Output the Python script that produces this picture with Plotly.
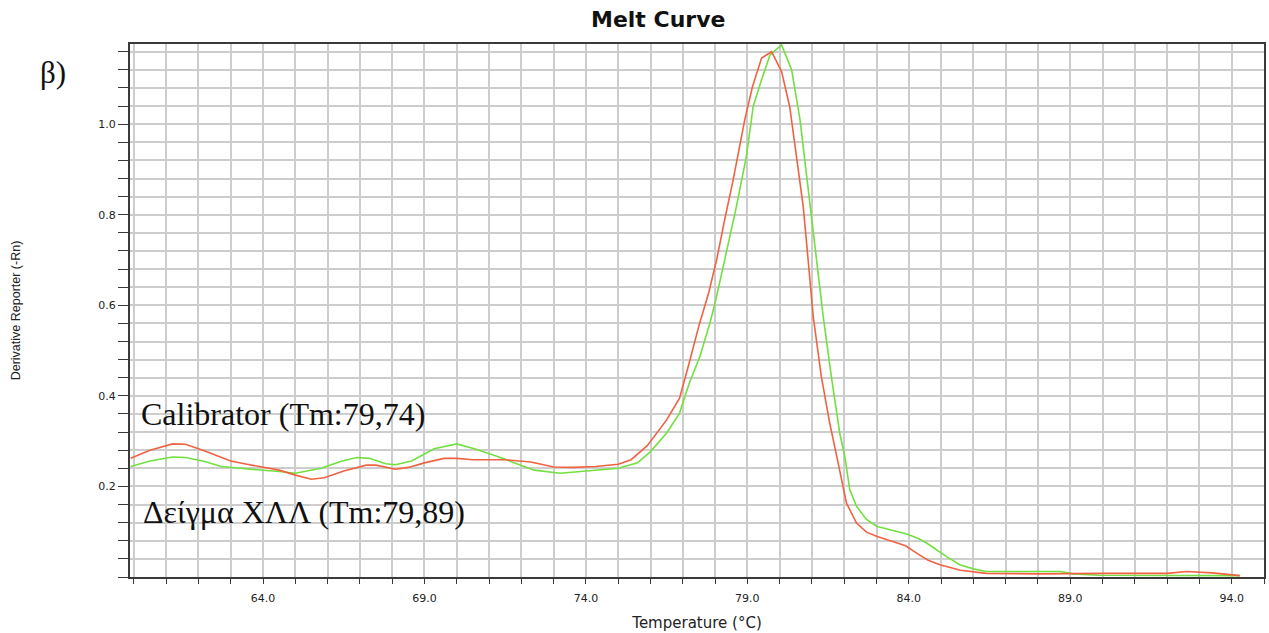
import plotly.graph_objects as go

# Calibrator (red) curve
cal_temp = [59.9, 60.5, 61.2, 61.6, 62.2, 63.0, 63.5, 64.0, 64.5, 65.0, 65.5, 65.9, 66.5, 67.2, 67.5,
            68.1, 68.5, 69.0, 69.6, 70.0, 70.5, 71.5, 72.3, 73.0, 73.6, 74.3, 75.0, 75.4, 75.9, 76.5,
            76.9, 77.2, 77.5, 77.8, 78.05, 78.3, 78.56, 78.92, 79.16, 79.44, 79.75, 80.06, 80.31, 80.52,
            80.73, 80.85, 81.04, 81.29, 81.55, 81.81, 82.07, 82.38, 82.69, 83.0, 83.5, 83.9, 84.3, 84.6,
            84.96, 85.6, 86.4, 88.0, 90.0, 92.0, 92.6, 93.4, 94.25]
cal_deriv = [0.262, 0.280, 0.294, 0.293, 0.278, 0.256, 0.249, 0.243, 0.236, 0.225, 0.216, 0.219, 0.234,
             0.247, 0.247, 0.238, 0.242, 0.252, 0.262, 0.262, 0.259, 0.259, 0.254, 0.243, 0.242, 0.244,
             0.249, 0.259, 0.290, 0.347, 0.395, 0.473, 0.555, 0.627, 0.701, 0.790, 0.877, 1.010, 1.083,
             1.146, 1.160, 1.116, 1.039, 0.929, 0.818, 0.725, 0.575, 0.443, 0.340, 0.252, 0.163, 0.119,
             0.099, 0.090, 0.079, 0.069, 0.050, 0.037, 0.027, 0.015, 0.008, 0.007, 0.008, 0.008, 0.012,
             0.009, 0.003]

# Sample (green) curve
smp_temp = [59.9, 60.5, 61.2, 61.6, 62.2, 62.7, 63.3, 63.9, 64.5, 65.0, 65.8, 66.4, 66.9, 67.3, 67.8,
            68.1, 68.6, 69.3, 70.0, 70.6, 71.4, 72.0, 72.4, 73.2, 73.8, 74.3, 75.0, 75.6, 76.0, 76.5,
            76.9, 77.2, 77.53, 77.84, 78.0, 78.3, 78.66, 78.97, 79.18, 79.44, 79.7, 80.06, 80.37, 80.63,
            80.88, 81.14, 81.35, 81.6, 81.86, 82.02, 82.17, 82.38, 82.69, 83.0, 83.5, 83.93, 84.3, 84.55,
            85.17, 85.58, 86.0, 86.4, 88.7, 89.1, 89.9, 92.8, 94.25]
smp_deriv = [0.244, 0.256, 0.265, 0.264, 0.255, 0.244, 0.240, 0.237, 0.233, 0.229, 0.240, 0.255, 0.264,
             0.262, 0.250, 0.248, 0.256, 0.283, 0.294, 0.282, 0.263, 0.246, 0.236, 0.229, 0.233, 0.235,
             0.240, 0.252, 0.277, 0.318, 0.362, 0.428, 0.487, 0.561, 0.605, 0.701, 0.818, 0.929, 1.039,
             1.098, 1.153, 1.175, 1.120, 1.010, 0.856, 0.701, 0.575, 0.443, 0.318, 0.266, 0.193, 0.156,
             0.127, 0.112, 0.103, 0.095, 0.085, 0.075, 0.045, 0.027, 0.018, 0.012, 0.012, 0.007, 0.004,
             0.004, 0.003]

y_tick_vals = [0.2, 0.4, 0.6, 0.8, 1.0]
y_tick_text = ["0.2", "0.4", "0.6", "0.8", "1.0"]

title_text = "Melt Curve"
x_title = "Temperature (°C)"
y_title = "Derivative Reporter (-Rn)"
panel_label = "β)"
cal_label = "Calibrator (Tm:79,74)"
smp_label = "Δείγμα ΧΛΛ (Tm:79,89)"

RED = "#ef6343"
GREEN = "#72e040"
GRID = "#cdcdcd"
AX = "#3a3a3a"
SANS = "Liberation Sans, Arial, sans-serif"
WIDE = "DejaVu Sans, Verdana, sans-serif"
SERIF = "Liberation Serif, Times New Roman, serif"

fig = go.Figure()
fig.add_trace(go.Scatter(x=smp_temp, y=smp_deriv, mode="lines",
                         line=dict(color=GREEN, width=1.6), name=smp_label))
fig.add_trace(go.Scatter(x=cal_temp, y=cal_deriv, mode="lines",
                         line=dict(color=RED, width=1.6), name=cal_label))

fig.update_layout(
    width=1269, height=633,
    margin=dict(l=130, r=5, t=44, b=56),
    paper_bgcolor="white", plot_bgcolor="white",
    showlegend=False,
    xaxis=dict(
        range=[59.88, 95.0], tick0=64, dtick=5, tickformat=".1f",
        showgrid=True, gridcolor=GRID, gridwidth=1.5,
        ticks="outside", ticklen=5, tickcolor=AX, tickwidth=1,
        showline=True, mirror=True, linecolor=AX, linewidth=2,
        zeroline=False, ticklabelstandoff=5, automargin=False,
        tickfont=dict(family=WIDE, size=11, color="#222"),
        minor=dict(tick0=60, dtick=1, showgrid=True, gridcolor=GRID, gridwidth=1.5,
                   ticks="outside", ticklen=5, tickcolor=AX),
        title=dict(text=x_title, font=dict(family=WIDE, size=15, color="#222"), standoff=13),
    ),
    yaxis=dict(
        range=[0, 1.177], tickmode="array", tickvals=y_tick_vals, ticktext=y_tick_text,
        showgrid=True, gridcolor=GRID, gridwidth=1.5,
        ticks="outside", ticklen=10, tickcolor=AX, tickwidth=1,
        showline=True, mirror=True, linecolor=AX, linewidth=2,
        zeroline=False, automargin=False,
        tickfont=dict(family=WIDE, size=11, color="#222"),
        minor=dict(tickmode="linear", tick0=0, dtick=0.04, showgrid=True, gridcolor=GRID,
                   gridwidth=1.5, ticks="outside", ticklen=10, tickcolor=AX),
        title=dict(text=y_title, font=dict(family=SANS, size=12.5, color="#222"), standoff=75),
    ),
)

fig.add_annotation(text=title_text, xref="paper", yref="paper", x=(658 - 130) / 1134, y=1,
                   yanchor="middle", yshift=25, showarrow=False,
                   font=dict(family=WIDE, size=22, color="#111", weight="bold"))
fig.add_annotation(text=panel_label, xref="paper", yref="paper", x=(38 - 130) / 1134, y=(577 - 72) / 533,
                   xanchor="left", yanchor="middle", showarrow=False,
                   font=dict(family=SERIF, size=31, color="#111"))
fig.add_annotation(text=cal_label, xref="paper", yref="paper", x=(139 - 130) / 1134, y=(577 - 414) / 533,
                   xanchor="left", yanchor="middle", showarrow=False,
                   font=dict(family=SERIF, size=32, color="#111"))
fig.add_annotation(text=smp_label, xref="paper", yref="paper", x=(141 - 130) / 1134, y=(577 - 512) / 533,
                   xanchor="left", yanchor="middle", showarrow=False,
                   font=dict(family=SERIF, size=32, color="#111"))

fig.write_html("out.html")
